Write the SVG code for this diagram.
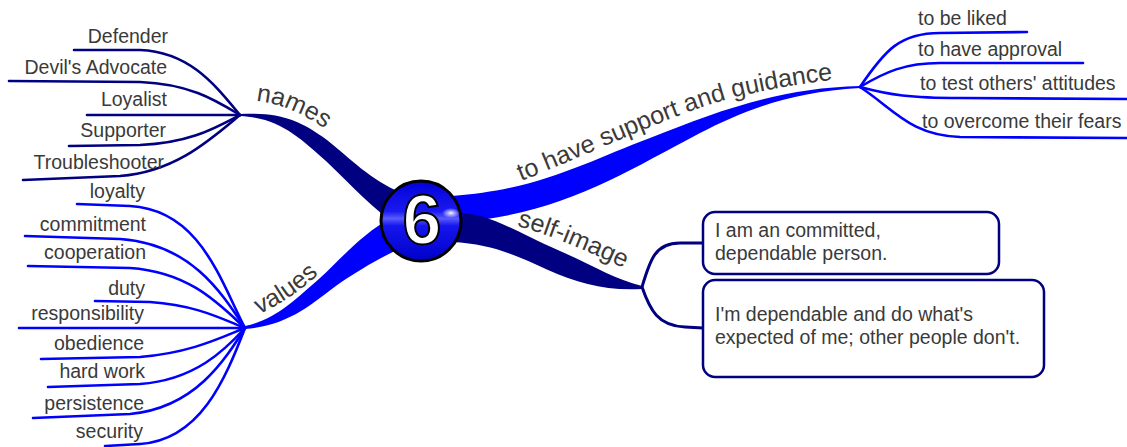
<svg xmlns="http://www.w3.org/2000/svg" width="1127" height="447" viewBox="0 0 1127 447">
<defs>
<style>
.t{font-family:"Liberation Sans",Arial,sans-serif;font-size:19.5px;fill:#3a3a3a}
.tl{font-family:"Liberation Sans",Arial,sans-serif;font-size:25px;fill:#3a3a3a}
.r{text-anchor:end}
.nv{fill:none;stroke:#000080;stroke-width:2.6;stroke-linecap:round}
.bl{fill:none;stroke:#0000ff;stroke-width:2.6;stroke-linecap:round}
.box{fill:#fff;stroke:#000080;stroke-width:2.5}
</style>
<linearGradient id="ball" x1="0" y1="0" x2="0" y2="1">
<stop offset="0" stop-color="#0000d8"/>
<stop offset="0.38" stop-color="#1a1af0"/>
<stop offset="0.47" stop-color="#5a5aff"/>
<stop offset="0.56" stop-color="#1515ee"/>
<stop offset="1" stop-color="#0000c8"/>
</linearGradient>
<radialGradient id="gloss" cx="0.5" cy="0.5" r="0.5">
<stop offset="0" stop-color="#ffffff" stop-opacity="0.95"/>
<stop offset="1" stop-color="#ffffff" stop-opacity="0"/>
</radialGradient>
<path id="pNames" d="M256,101 C 285,104 312,117 342,142"/>
<path id="pValues" d="M259,314 C 280,305 300,292 332,262"/>
<path id="pSupport" d="M521,181 C 600,150 680,110 740,96 C 780,87 810,82 850,78"/>
<path id="pSelf" d="M517,226 C 550,235 588,251 632,272"/>
</defs>

<g id="connectors">
<!-- main branches -->
<path d="M240,114 C 280,112 300,120 327,140 C 350,158 370,180 402,193 L396,224 C 374,210 352,186 327,162 C 300,138 280,118 240,116 Z" fill="#000080"/>
<path d="M245,326 C 275,320 295,300 320,278 C 340,260 360,235 394,216 L397,250 C 372,262 357,272 340,283 C 310,305 290,325 245,329 Z" fill="#0000ff"/>
<path d="M452,196 C 540,190 590,160 650,138 C 720,110 780,88 860,86 L860,88 C 790,92 745,110 700,133 C 620,175 560,215 452,223 Z" fill="#0000ff"/>
<path d="M452,212 C 490,213 512,230 560,251 C 592,265 614,279 642,286 L642,289 C 605,291 578,283 548,270 C 515,255 492,244 452,242 Z" fill="#000080"/>
<!-- names leaves -->
<path class="nv" d="M74,50 L140,50 C 190,52 215,85 240,115"/>
<path class="nv" d="M9,81 L140,82 C 190,84 215,100 240,115"/>
<path class="nv" d="M87,115 L240,115"/>
<path class="nv" d="M69,146 L140,145 C 190,143 215,128 240,115"/>
<path class="nv" d="M23,180 L120,176 C 175,172 210,140 240,115"/>
<!-- values leaves -->
<path class="bl" d="M77,204 L130,206 C 200,210 220,280 245,328"/>
<path class="bl" d="M25,236 L120,239 C 190,244 220,290 245,328"/>
<path class="bl" d="M28,266 L130,268 C 190,272 220,305 245,328"/>
<path class="bl" d="M95,301 L150,302 C 195,305 220,318 245,328"/>
<path class="bl" d="M19,328 L245,328"/>
<path class="bl" d="M41,359 L140,357 C 190,353 220,338 245,328"/>
<path class="bl" d="M48,387 L140,384 C 195,380 225,350 245,328"/>
<path class="bl" d="M33,418 L130,414 C 195,408 225,360 245,328"/>
<path class="bl" d="M105,446 L140,444 C 200,440 225,380 245,328"/>
<!-- support leaves -->
<path class="bl" d="M860,87 C 885,50 900,33 940,33 L1027,32"/>
<path class="bl" d="M860,87 C 885,72 905,63 940,63 L1083,63"/>
<path class="bl" d="M860,87 C 890,95 910,98 960,98 L1127,99"/>
<path class="bl" d="M860,87 C 895,110 910,135 960,137 L1127,138"/>
<!-- self-image connectors -->
<path class="nv" style="stroke-width:3" d="M642,287 C 650,260 655,243 680,243 L703,243"/>
<path class="nv" style="stroke-width:3" d="M642,287 C 650,310 658,326 685,327 L703,328"/>
</g>

<g id="center">
<circle cx="421" cy="221" r="40" fill="url(#ball)" stroke="#000" stroke-width="3"/>
<ellipse cx="451" cy="213" rx="9" ry="5" fill="url(#gloss)"/>
<text x="422" y="244" text-anchor="middle" style="font-family:'Liberation Sans',Arial,sans-serif;font-size:70px;font-weight:bold;fill:#fff;stroke:#000;stroke-width:2">6</text>
</g>

<g id="names">
<text class="tl"><textPath href="#pNames">names</textPath></text>
<text class="t r" x="168" y="43">Defender</text>
<text class="t r" x="167" y="74">Devil's Advocate</text>
<text class="t r" x="167" y="106">Loyalist</text>
<text class="t r" x="166" y="137">Supporter</text>
<text class="t r" x="164" y="169">Troubleshooter</text>
</g>

<g id="values">
<text class="tl"><textPath href="#pValues">values</textPath></text>
<text class="t r" x="145" y="198">loyalty</text>
<text class="t r" x="146" y="231">commitment</text>
<text class="t r" x="146" y="259">cooperation</text>
<text class="t r" x="145" y="295">duty</text>
<text class="t r" x="144" y="320">responsibility</text>
<text class="t r" x="144" y="350">obedience</text>
<text class="t r" x="145" y="378">hard work</text>
<text class="t r" x="144" y="410">persistence</text>
<text class="t r" x="143" y="438">security</text>
</g>

<g id="support">
<text class="tl"><textPath href="#pSupport">to have support and guidance</textPath></text>
<text class="t" x="918" y="25">to be liked</text>
<text class="t" x="918" y="56">to have approval</text>
<text class="t" x="920" y="90">to test others' attitudes</text>
<text class="t" x="922" y="128">to overcome their fears</text>
</g>

<g id="self-image">
<text class="tl"><textPath href="#pSelf">self-image</textPath></text>
</g>

<g id="box1">
<rect class="box" x="703" y="212" width="296" height="62" rx="12"/>
<text class="t" x="715" y="237">I am an committed,</text>
<text class="t" x="715" y="260">dependable person.</text>
</g>

<g id="box2">
<rect class="box" x="703" y="280" width="341" height="97" rx="12"/>
<text class="t" x="715" y="321">I'm dependable and do what's</text>
<text class="t" x="715" y="344">expected of me; other people don't.</text>
</g>
</svg>
